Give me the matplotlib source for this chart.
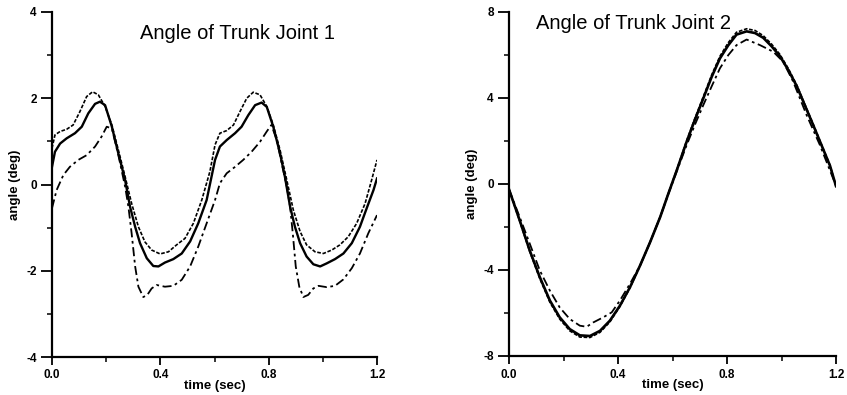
import matplotlib
matplotlib.use("Agg")
import matplotlib.pyplot as plt
from matplotlib.ticker import MultipleLocator

plt.rcParams["font.family"] = ["Liberation Sans", "DejaVu Sans"]

# --- Angle of Trunk Joint 1 ---
j1_solid_t = [0.0, 0.011, 0.030, 0.054, 0.085, 0.110, 0.134, 0.159, 0.177, 0.196, 0.221, 0.245, 0.270,
              0.288, 0.307, 0.325, 0.350, 0.374, 0.393, 0.417, 0.448, 0.479, 0.510, 0.540, 0.571,
              0.602, 0.620, 0.645, 0.676, 0.700, 0.725, 0.750, 0.774, 0.793, 0.817, 0.842, 0.860,
              0.879, 0.897, 0.916, 0.940, 0.965, 0.990, 1.014, 1.045, 1.076, 1.107, 1.137, 1.162,
              1.187, 1.2]
j1_solid = [0.41, 0.76, 0.95, 1.07, 1.19, 1.34, 1.65, 1.87, 1.92, 1.84, 1.34, 0.72, 0.10,
            -0.51, -0.98, -1.36, -1.71, -1.89, -1.90, -1.81, -1.73, -1.60, -1.32, -0.90, -0.36,
            0.57, 0.88, 1.03, 1.19, 1.34, 1.61, 1.84, 1.90, 1.80, 1.34, 0.72, 0.18,
            -0.51, -0.98, -1.36, -1.67, -1.85, -1.90, -1.83, -1.73, -1.60, -1.36, -0.98, -0.55,
            -0.13, 0.14]

j1_dash_t = [0.0, 0.011, 0.030, 0.054, 0.078, 0.103, 0.128, 0.150, 0.171, 0.196, 0.221, 0.245, 0.270,
             0.294, 0.319, 0.343, 0.368, 0.399, 0.430, 0.460, 0.491, 0.522, 0.553, 0.583, 0.602,
             0.620, 0.645, 0.670, 0.694, 0.719, 0.743, 0.768, 0.793, 0.817, 0.842, 0.867, 0.891,
             0.916, 0.940, 0.971, 1.002, 1.033, 1.063, 1.094, 1.125, 1.156, 1.180, 1.2]
j1_dash = [0.84, 1.15, 1.23, 1.28, 1.38, 1.69, 2.04, 2.15, 2.08, 1.81, 1.38, 0.80, 0.18,
           -0.44, -0.98, -1.33, -1.52, -1.61, -1.56, -1.40, -1.25, -0.90, -0.36, 0.30, 0.92,
           1.19, 1.25, 1.38, 1.69, 2.00, 2.14, 2.08, 1.81, 1.38, 0.80, 0.10, -0.59,
           -1.09, -1.40, -1.56, -1.60, -1.52, -1.40, -1.21, -0.90, -0.44, 0.10, 0.57]

j1_dashdot_t = [0.0, 0.017, 0.042, 0.066, 0.097, 0.128, 0.159, 0.183, 0.202, 0.221, 0.245, 0.270, 0.282,
                0.294, 0.307, 0.319, 0.337, 0.352, 0.368, 0.386, 0.417, 0.448, 0.479, 0.510, 0.540,
                0.571, 0.602, 0.620, 0.645, 0.676, 0.706, 0.737, 0.768, 0.793, 0.810, 0.830, 0.848,
                0.867, 0.879, 0.889, 0.900, 0.913, 0.928, 0.946, 0.965, 0.984, 1.014, 1.045, 1.076,
                1.107, 1.137, 1.168, 1.2]
j1_dashdot = [-0.55, -0.13, 0.22, 0.41, 0.57, 0.68, 0.88, 1.11, 1.34, 1.30, 0.68, -0.05, -0.51,
              -1.13, -1.90, -2.37, -2.61, -2.56, -2.41, -2.33, -2.37, -2.35, -2.21, -1.90, -1.44,
              -0.90, -0.36, 0.03, 0.26, 0.41, 0.57, 0.76, 0.99, 1.23, 1.38, 1.03, 0.49,
              -0.05, -0.51, -1.13, -1.90, -2.37, -2.61, -2.56, -2.41, -2.35, -2.38, -2.35, -2.20,
              -1.94, -1.60, -1.13, -0.71]

# --- Angle of Trunk Joint 2 ---
j2_t = [0.0, 0.039, 0.076, 0.113, 0.150, 0.186, 0.223, 0.260, 0.297, 0.334, 0.370, 0.407, 0.444,
        0.481, 0.518, 0.555, 0.585, 0.616, 0.652, 0.682, 0.713, 0.744, 0.774, 0.805, 0.835,
        0.872, 0.903, 0.933, 0.964, 0.994, 1.025, 1.056, 1.086, 1.117, 1.147, 1.178, 1.2]
j2_solid = [-0.25, -1.68, -3.09, -4.33, -5.42, -6.20, -6.75, -7.04, -7.07, -6.83, -6.36, -5.66, -4.80,
            -3.79, -2.70, -1.53, -0.44, 0.65, 1.97, 2.98, 3.98, 4.99, 5.84, 6.46, 6.95,
            7.10, 7.02, 6.80, 6.40, 5.95, 5.30, 4.55, 3.65, 2.72, 1.80, 0.85, -0.10]
j2_dash = [-0.25, -1.72, -3.14, -4.40, -5.50, -6.28, -6.83, -7.12, -7.14, -6.90, -6.42, -5.70, -4.83,
           -3.80, -2.70, -1.52, -0.42, 0.68, 2.02, 3.05, 4.06, 5.08, 5.94, 6.58, 7.06,
           7.22, 7.14, 6.90, 6.50, 6.03, 5.37, 4.60, 3.70, 2.76, 1.83, 0.87, -0.10]
j2_dashdot_t = [0.0, 0.039, 0.076, 0.113, 0.150, 0.186, 0.223, 0.260, 0.285, 0.309, 0.346, 0.377,
                0.407, 0.444, 0.481, 0.518, 0.555, 0.585, 0.616, 0.652, 0.682, 0.713, 0.744, 0.774,
                0.805, 0.835, 0.872, 0.921, 0.970, 1.006, 1.043, 1.092, 1.141, 1.2]
j2_dashdot = [-0.25, -1.53, -2.77, -4.02, -4.96, -5.74, -6.28, -6.59, -6.64, -6.44, -6.20, -5.97,
              -5.42, -4.64, -3.79, -2.70, -1.53, -0.46, 0.60, 1.81, 2.75, 3.67, 4.55, 5.38,
              6.00, 6.46, 6.72, 6.46, 6.15, 5.69, 4.76, 3.21, 1.81, -0.08]

fig = plt.figure(figsize=(8.47, 3.95), dpi=100)
ax1 = fig.add_axes([52 / 847, 1 - 357 / 395, 325 / 847, 345 / 395])
ax2 = fig.add_axes([509 / 847, 1 - 356 / 395, 327 / 847, 344 / 395])

dash = (0, (2.2, 1.0))
dashdot = (0, (5, 2, 1.5, 2))

ax1.plot(j1_solid_t, j1_solid, color="black", lw=1.7, ls="-")
ax1.plot(j1_dash_t, j1_dash, color="black", lw=1.2, ls=dash)
ax1.plot(j1_dashdot_t, j1_dashdot, color="black", lw=1.3, ls=dashdot)

ax2.plot(j2_t, j2_solid, color="black", lw=1.9, ls="-")
ax2.plot(j2_t, j2_dash, color="black", lw=1.2, ls=dash)
ax2.plot(j2_dashdot_t, j2_dashdot, color="black", lw=1.3, ls=dashdot)


def style(ax, ymax, ystep):
    ax.set_xlim(0, 1.2)
    ax.set_ylim(-ymax, ymax)
    for side in ("top", "right"):
        ax.spines[side].set_visible(False)
    for side in ("left", "bottom"):
        ax.spines[side].set_linewidth(1.6)
    ax.xaxis.set_minor_locator(MultipleLocator(0.2))
    ax.yaxis.set_minor_locator(MultipleLocator(ystep / 2))
    ax.set_xticks([0.0, 0.4, 0.8, 1.2])
    ax.set_xticklabels(["0.0", "0.4", "0.8", "1.2"], fontweight="bold", fontsize=8.5)
    yt = [-ymax, -ystep, 0, ystep, ymax]
    ax.set_yticks(yt)
    ax.set_yticklabels([str(v) for v in yt], fontweight="bold", fontsize=8.5)
    ax.tick_params(axis="x", which="major", direction="out", length=6, width=1.3, pad=3)
    ax.tick_params(axis="y", which="major", direction="out", length=8, width=1.3, pad=3)
    ax.tick_params(which="minor", direction="out", length=3.5, width=1.1)
    ax.set_xlabel("time (sec)", fontsize=9.5, fontweight="bold", labelpad=-1)
    ax.set_ylabel("angle (deg)", fontsize=9.5, fontweight="bold", labelpad=4)


style(ax1, 4, 2)
style(ax2, 8, 4)

ax1.text(0.571, 0.939, "Angle of Trunk Joint 1", transform=ax1.transAxes, ha="center", va="center",
         fontsize=14.5)
ax2.text(0.381, 0.968, "Angle of Trunk Joint 2", transform=ax2.transAxes, ha="center", va="center",
         fontsize=14.5)

fig.savefig("out.png", dpi=100)
